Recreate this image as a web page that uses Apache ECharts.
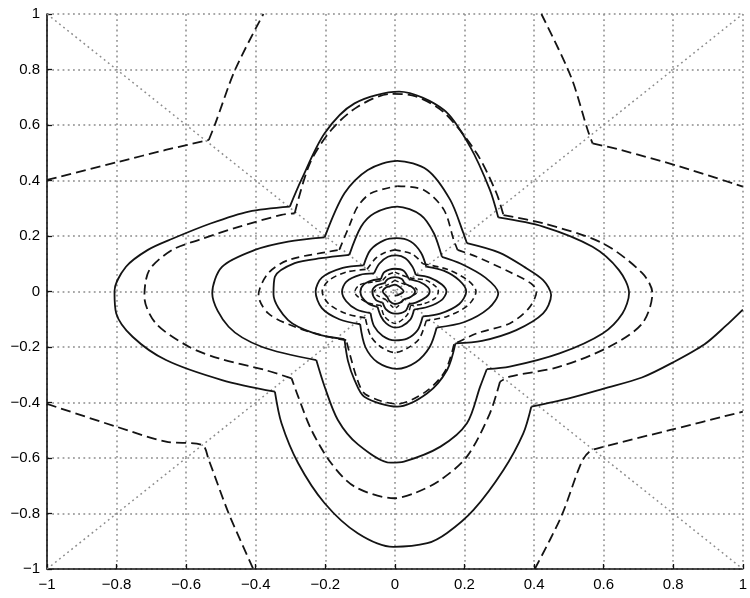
<!DOCTYPE html>
<html>
<head>
<meta charset="utf-8">
<script src="https://cdn.jsdelivr.net/npm/echarts/dist/echarts.min.js"></script>
<style>
html,body{margin:0;padding:0;background:#fff;}
#chart{width:750px;height:598px;}
</style>
</head>
<body>
<div id="chart"></div>
<script>
// ---- axis ticks ----
const AXIS_MIN = -1, AXIS_MAX = 1, AXIS_STEP = 0.2;
const tickLabels = ['-1','-0.8','-0.6','-0.4','-0.2','0','0.2','0.4','0.6','0.8','1'];

// ---- solid spiral trajectory ----
const solidSpiral = [
[1.0,-0.065],[0.95,-0.125],[0.89,-0.19],[0.80,-0.255],[0.71,-0.31],[0.60,-0.35],[0.50,-0.385],[0.392,-0.415],
[0.369,-0.511],[0.312,-0.643],[0.226,-0.787],[0.15,-0.87],[0.093,-0.907],[-0.005,-0.92],[-0.107,-0.871],[-0.202,-0.763],[-0.278,-0.619],[-0.326,-0.475],[-0.345,-0.361],
[-0.497,-0.319],[-0.658,-0.247],[-0.754,-0.163],[-0.801,-0.079],[-0.806,0.0],[-0.773,0.089],[-0.71,0.15],[-0.64,0.19],[-0.53,0.245],[-0.42,0.288],[-0.302,0.306],
[-0.269,0.402],[-0.202,0.570],[-0.116,0.678],[0.012,0.72],[0.141,0.654],[0.216,0.522],[0.273,0.366],[0.297,0.267],
[0.426,0.234],[0.568,0.161],[0.644,0.077],[0.673,-0.006],[0.654,-0.079],[0.597,-0.151],[0.473,-0.223],[0.330,-0.271],[0.264,-0.28],
[0.245,-0.343],[0.207,-0.475],[0.131,-0.559],[0.026,-0.613],[-0.012,-0.617],[-0.107,-0.55],[-0.164,-0.463],[-0.202,-0.343],[-0.226,-0.247],
[-0.383,-0.199],[-0.478,-0.127],[-0.525,-0.006],[-0.497,0.089],[-0.402,0.150],[-0.307,0.180],[-0.202,0.195],
[-0.145,0.354],[-0.078,0.438],[0.007,0.471],[0.093,0.438],[0.159,0.330],[0.197,0.210],[0.207,0.174],
[0.30,0.14],[0.37,0.09],[0.426,0.041],[0.449,-0.013],[0.426,-0.079],[0.349,-0.139],[0.25,-0.178],[0.174,-0.187],
[0.150,-0.283],[0.093,-0.367],[0.007,-0.415],[-0.088,-0.379],[-0.116,-0.319],[-0.135,-0.25],[-0.145,-0.172],
[-0.231,-0.151],[-0.307,-0.103],[-0.349,-0.01],[-0.345,0.053],[-0.288,0.102],[-0.212,0.12],[-0.131,0.132],
[-0.097,0.234],[-0.059,0.282],[0.007,0.306],[0.074,0.276],[0.112,0.21],[0.135,0.125],
[0.19,0.1],[0.26,0.05],[0.297,-0.006],[0.27,-0.06],[0.2,-0.11],[0.12,-0.13],
[0.10,-0.2],[0.06,-0.255],[0.005,-0.279],[-0.05,-0.255],[-0.085,-0.2],[-0.10,-0.118],
[-0.16,-0.1],[-0.21,-0.06],[-0.228,0.0],[-0.21,0.05],[-0.15,0.085],[-0.09,0.094],
[-0.07,0.15],[-0.03,0.185],[0.005,0.192],[0.045,0.18],[0.075,0.14],[0.09,0.09],
[0.14,0.075],[0.185,0.04],[0.205,0.0],[0.185,-0.045],[0.13,-0.08],[0.08,-0.09],
[0.065,-0.14],[0.035,-0.17],[0.0,-0.176],[-0.035,-0.16],[-0.06,-0.125],[-0.07,-0.078],
[-0.11,-0.065],[-0.14,-0.035],[-0.152,0.0],[-0.14,0.035],[-0.1,0.06],[-0.06,0.065],
[-0.045,0.1],[-0.02,0.125],[0.005,0.13],[0.03,0.12],[0.05,0.09],[0.06,0.06],
[0.1,0.05],[0.135,0.025],[0.148,0.0],[0.135,-0.03],[0.095,-0.055],[0.055,-0.065],
[0.045,-0.1],[0.02,-0.125],[0.0,-0.13],[-0.025,-0.115],[-0.04,-0.09],[-0.05,-0.055],
[-0.075,-0.045],[-0.095,-0.02],[-0.099,0.0],[-0.09,0.025],[-0.065,0.04],[-0.04,0.045],
[-0.03,0.07],[0.0,0.082],[0.025,0.075],[0.04,0.045],
[0.07,0.035],[0.095,0.015],[0.10,0.0],[0.09,-0.02],[0.06,-0.04],[0.04,-0.045],
[0.03,-0.07],[0.0,-0.08],[-0.025,-0.065],[-0.035,-0.04],
[-0.055,-0.03],[-0.065,0.0],[-0.055,0.02],[-0.03,0.03],
[-0.02,0.045],[0.0,0.052],[0.02,0.045],[0.028,0.028],
[0.05,0.015],[0.058,0.0],[0.045,-0.02],[0.025,-0.028],[0.015,-0.04],[0.0,-0.045],[-0.015,-0.035],[-0.022,-0.02],
[-0.035,0.0],[-0.025,0.015],[-0.012,0.02],[0.0,0.025],[0.015,0.015],[0.025,0.0],[0.01,-0.012],[0.0,-0.015]
];

// ---- dashed closed curves ----
const dashedLoop0 = [
[0.312,0.275],[0.426,0.246],[0.597,0.174],[0.711,0.066],[0.74,-0.006],[0.711,-0.115],[0.616,-0.199],[0.473,-0.271],[0.330,-0.307],[0.302,-0.325],
[0.273,-0.439],[0.207,-0.595],[0.131,-0.679],[0.06,-0.725],[-0.002,-0.745],[-0.116,-0.703],[-0.183,-0.619],[-0.240,-0.499],[-0.278,-0.379],[-0.297,-0.313],
[-0.373,-0.283],[-0.506,-0.241],[-0.592,-0.199],[-0.687,-0.115],[-0.72,-0.019],[-0.706,0.077],[-0.640,0.150],[-0.563,0.186],[-0.449,0.233],[-0.326,0.276],[-0.288,0.282],
[-0.245,0.46],[-0.183,0.582],[-0.107,0.666],[-0.012,0.712],[0.06,0.703],[0.141,0.645],[0.235,0.498],[0.292,0.354],[0.312,0.275]
];
const dashedLoop1 = [
[0.007,0.38],[0.083,0.366],[0.141,0.294],[0.169,0.186],[0.18,0.15],[0.235,0.125],[0.33,0.07],[0.39,0.03],[0.407,0.0],[0.385,-0.06],[0.33,-0.115],[0.235,-0.151],[0.17,-0.19],
[0.145,-0.285],[0.09,-0.36],[0.007,-0.405],[-0.085,-0.37],[-0.11,-0.31],[-0.14,-0.175],
[-0.193,-0.163],[-0.288,-0.127],[-0.364,-0.079],[-0.392,-0.013],[-0.364,0.066],[-0.307,0.113],[-0.193,0.143],[-0.16,0.15],
[-0.13,0.24],[-0.107,0.306],[-0.069,0.354],[0.007,0.38]
];
const dashedLoop2 = [
[0.0,0.15],[0.05,0.135],[0.08,0.1],[0.15,0.08],[0.21,0.04],[0.233,0.0],[0.21,-0.05],[0.15,-0.09],[0.09,-0.105],
[0.07,-0.17],[0.035,-0.205],[0.0,-0.22],[-0.04,-0.2],[-0.07,-0.16],[-0.085,-0.095],
[-0.14,-0.08],[-0.19,-0.045],[-0.209,0.0],[-0.19,0.04],[-0.14,0.07],[-0.08,0.08],
[-0.055,0.12],[-0.03,0.14],[0.0,0.15]
];
const dashedLoop3 = [
[0.0,0.07],[0.04,0.05],[0.09,0.04],[0.12,0.015],[0.125,0.0],[0.115,-0.025],[0.08,-0.045],[0.045,-0.05],
[0.035,-0.085],[0.0,-0.115],[-0.03,-0.09],[-0.04,-0.05],[-0.08,-0.04],[-0.11,-0.015],[-0.115,0.0],[-0.1,0.025],
[-0.06,0.035],[-0.035,0.04],[-0.02,0.06],[0.0,0.07]
];
const dashedLoop4 = [
[0.0,0.04],[0.03,0.025],[0.06,0.012],[0.065,0.0],[0.045,-0.02],[0.025,-0.03],[0.0,-0.06],[-0.025,-0.03],
[-0.05,-0.015],[-0.06,0.0],[-0.04,0.015],[-0.02,0.025],[0.0,0.04]
];

// ---- dashed outer curves (one per corner) ----
const starUL = [[-1,0.402],[-0.792,0.468],[-0.659,0.51],[-0.535,0.546],[-0.516,0.606],[-0.459,0.80],[-0.378,1.0]];
const starUR = [[0.421,1.0],[0.506,0.774],[0.554,0.582],[0.568,0.534],[0.649,0.51],[0.820,0.45],[1.0,0.378]];
const starLL = [[-1,-0.405],[-0.801,-0.487],[-0.658,-0.541],[-0.554,-0.553],[-0.535,-0.607],[-0.478,-0.799],[-0.407,-1.0]];
const starLR = [[0.402,-1.0],[0.478,-0.811],[0.535,-0.619],[0.559,-0.577],[0.601,-0.559],[0.792,-0.499],[1.0,-0.433]];

// ---- dotted diagonals ----
const diagDown = [[-1,1],[1,-1]];
const diagUp = [[-1,-1],[1,1]];

const DOT = [1.8, 3.4];
const GRID_GREY = '#8c8c8c';
const INK = '#141414';

// split a polyline at its sharp (left-turning) corners so each arc can be smoothed
function splitAtCorners(pts) {
  const segs = [];
  let cur = [pts[0]];
  for (let i = 1; i < pts.length; i++) {
    cur.push(pts[i]);
    if (i < pts.length - 1) {
      const ax = (pts[i][0] - pts[i-1][0]) * 350, ay = (pts[i][1] - pts[i-1][1]) * 277;
      const bx = (pts[i+1][0] - pts[i][0]) * 350, by = (pts[i+1][1] - pts[i][1]) * 277;
      const la = Math.hypot(ax, ay), lb = Math.hypot(bx, by);
      const s = (ax * by - ay * bx) / (la * lb || 1);
      if (s > 0.3) { segs.push(cur); cur = [pts[i]]; }
    }
  }
  if (cur.length > 1) segs.push(cur);
  return segs;
}

function curveSeries(data, type, width, z) {
  return splitAtCorners(data).map(seg => ({
    type: 'line', data: seg, showSymbol: false, symbol: 'none', smooth: 0.3,
    clip: true, silent: true, z: z,
    lineStyle: { color: INK, width: width, type: type, cap: 'butt', join: 'miter' }
  }));
}

function dotSeries(data) {
  return {
    type: 'line', data: data, showSymbol: false, symbol: 'none', silent: true, z: 1,
    lineStyle: { color: GRID_GREY, width: 1.5, type: DOT }
  };
}

function fmt(v) {
  const s = String(Math.round(v * 10) / 10);
  return s.replace('-', '\u2212');
}

const labelFont = { color: '#000', fontSize: 15, fontFamily: 'Liberation Sans, Arial, sans-serif' };

const chart = echarts.init(document.getElementById('chart'), null, { renderer: 'canvas' });
chart.setOption({
  animation: false,
  backgroundColor: '#ffffff',
  grid: { left: 47, right: 2, top: 14, bottom: 29, containLabel: false },
  xAxis: {
    type: 'value', min: AXIS_MIN, max: AXIS_MAX, interval: AXIS_STEP,
    axisLine: { show: true, onZero: false, lineStyle: { color: '#111', width: 1.6 } },
    axisTick: { show: true, inside: true, length: 5, lineStyle: { color: '#111', width: 1.3 } },
    axisLabel: Object.assign({ margin: 8, formatter: fmt, showMinLabel: true, showMaxLabel: true }, labelFont),
    splitLine: { show: true, lineStyle: { color: GRID_GREY, width: 1.5, type: DOT } }
  },
  yAxis: {
    type: 'value', min: AXIS_MIN, max: AXIS_MAX, interval: AXIS_STEP,
    axisLine: { show: true, onZero: false, lineStyle: { color: '#111', width: 1.6 } },
    axisTick: { show: true, inside: true, length: 5, lineStyle: { color: '#111', width: 1.3 } },
    axisLabel: Object.assign({ margin: 7, formatter: fmt, showMinLabel: true, showMaxLabel: true }, labelFont),
    splitLine: { show: true, lineStyle: { color: GRID_GREY, width: 1.5, type: DOT } }
  },
  series: [].concat(
    [dotSeries(diagDown), dotSeries(diagUp)],
    curveSeries(starUL, [10, 5], 1.8, 2),
    curveSeries(starUR, [10, 5], 1.8, 2),
    curveSeries(starLL, [10, 5], 1.8, 2),
    curveSeries(starLR, [10, 5], 1.8, 2),
    curveSeries(dashedLoop0, [10, 5], 1.8, 2),
    curveSeries(dashedLoop1, [8, 5], 1.7, 2),
    curveSeries(dashedLoop2, [6, 4], 1.6, 2),
    curveSeries(dashedLoop3, [5, 3], 1.5, 2),
    curveSeries(dashedLoop4, [4, 3], 1.4, 2),
    curveSeries(solidSpiral, 'solid', 1.8, 3)
  )
});
</script>
</body>
</html>
